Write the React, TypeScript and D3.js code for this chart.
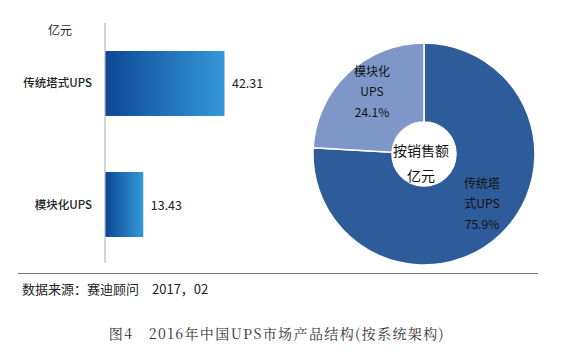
import React from "react";
import * as d3 from "d3";

const categories = ["传统塔式UPS", "模块化UPS"];
const values = [42.31, 13.43];
const valueLabels = ["42.31", "13.43"];
const pieNames = [["传统塔", "式UPS"], ["模块化", "UPS"]];
const pieShares = [75.9, 24.1];
const pieColors = ["#2E5C9A", "#7E97C8"];

const W = 565, H = 357;
const FONT = "'Noto Sans CJK SC', 'Noto Sans', sans-serif";

export default function App() {
  const x = d3.scaleLinear().domain([0, 50]).range([105, 245.6]);
  const y = d3.scaleBand().domain(categories).range([26.8, 261.2]).paddingInner(0.463).paddingOuter(0.2);

  const cx = 424, cy = 154, R = 111, r = 32;
  const pie = d3.pie<number>().sort(null).value((d) => d);
  const arcs = pie.startAngle(0).endAngle(2 * Math.PI)(pieShares);
  const arcGen = d3.arc<d3.PieArcDatum<number>>().innerRadius(r).outerRadius(R);
  const labelPos = [
    { x: 482, y: 184 },
    { x: 372, y: 72 },
  ];

  return (
    <svg width={W} height={H} style={{ position: "absolute", left: 0, top: 0, background: "#fff" }}>
      <defs>
        <linearGradient id="barGrad" x1="0" x2="1" y1="0" y2="0">
          <stop offset="0%" stopColor="#0F4794" />
          <stop offset="100%" stopColor="#3399D8" />
        </linearGradient>
      </defs>
      <text x={60} y={35} fontFamily={FONT} fontSize={12} textAnchor="middle" fill="#222">亿元</text>
      <line x1={105} x2={105} y1={23} y2={263} stroke="#aaa" strokeWidth={1} />
      {categories.map((c, i) => (
        <g key={c}>
          <rect x={x(0) + 0.5} y={y(c)!} width={x(values[i]) - x(0)} height={y.bandwidth()} fill="url(#barGrad)" />
          <text x={92} y={y(c)! + y.bandwidth() / 2 + 4} textAnchor="end" fontFamily={FONT} fontSize={11.5} fill="#222" fontWeight={500}>{c}</text>
          <text x={x(values[i]) + 8} y={y(c)! + y.bandwidth() / 2 + 5} fontFamily={FONT} fontSize={12.5} fill="#222">{valueLabels[i]}</text>
        </g>
      ))}
      <g transform={`translate(${cx},${cy})`}>
        {arcs.map((a, i) => (
          <path key={i} d={arcGen(a)!} fill={pieColors[i]} stroke="#fff" strokeWidth={1.5} />
        ))}
        <circle r={r} fill="#fff" />
      </g>
      {labelPos.map((p, i) => (
        <g key={i} fontFamily={FONT} fontSize={12} fill="#111" textAnchor="middle">
          <text x={p.x} y={p.y + 4}>{pieNames[i][0]}</text>
          <text x={p.x} y={p.y + 24}>{pieNames[i][1]}</text>
          <text x={p.x} y={p.y + 45}>{pieShares[i].toFixed(1)}%</text>
        </g>
      ))}
      <text x={421} y={156} textAnchor="middle" fontFamily={FONT} fontSize={14} fill="#111">按销售额</text>
      <text x={421} y={181} textAnchor="middle" fontFamily={FONT} fontSize={14} fill="#111">亿元</text>
      <line x1={18} x2={538} y1={273.5} y2={273.5} stroke="#777" strokeWidth={1} />
      <text x={22} y={294} fontFamily={FONT} fontSize={13} fill="#222">数据来源：赛迪顾问　2017，02</text>
      <text x={277} y={339} textAnchor="middle" fontFamily="'Noto Serif CJK SC', 'Noto Sans CJK SC', serif" fontSize={14} fill="#333" letterSpacing={1.4}>图4　2016年中国UPS市场产品结构(按系统架构)</text>
    </svg>
  );
}
